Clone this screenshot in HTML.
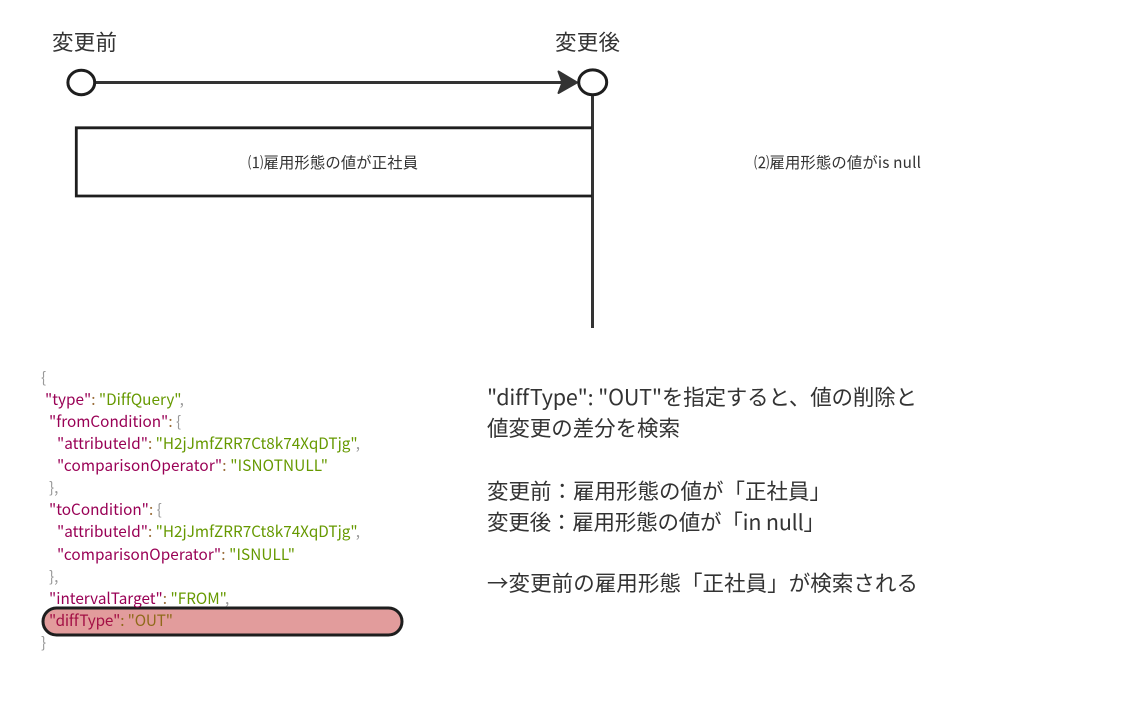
<!DOCTYPE html>
<html><head><meta charset="utf-8"><style>
html,body{margin:0;padding:0;background:#fff;width:1124px;height:708px;overflow:hidden}
svg{display:block}
text{font-family:"Noto Sans CJK JP","Liberation Sans",sans-serif;font-variant-ligatures:none}
.j{font-size:15.3px}
.t{font-size:21.5px;fill:#333}
.k{fill:#990055}.s{fill:#669900}.p{fill:#999}.o{fill:#9a6e3a}
</style></head><body>
<svg width="1124" height="708" viewBox="0 0 1124 708" xmlns="http://www.w3.org/2000/svg">
<text x="52" y="50" font-size="21.500" fill="#333" textLength="65">変更前</text>
<text x="555" y="50" font-size="21.500" fill="#333" textLength="65">変更後</text>
<line x1="96" y1="82.500" x2="566" y2="82.500" stroke="#333" stroke-width="3"/>
<path d="M558.500 71.500 L577 82.500 L558.500 93 L562.500 82.500Z" fill="#333" stroke="#333" stroke-width="2" stroke-linejoin="round"/>
<ellipse cx="81.300" cy="82.500" rx="13.400" ry="12.200" fill="#fff" stroke="#1e1e1e" stroke-width="3"/>
<ellipse cx="592.700" cy="82.300" rx="14" ry="12.400" fill="#fff" stroke="#1e1e1e" stroke-width="3"/>
<line x1="592.500" y1="96" x2="592.500" y2="328" stroke="#333" stroke-width="3"/>
<path d="M592 127.800H76.300V196H592" fill="none" stroke="#1e1e1e" stroke-width="2.800"/>
<text x="248" y="168" font-size="15.300" fill="#333" textLength="170">⑴雇用形態の値が正社員</text>
<text x="754" y="168" font-size="15.300" fill="#333" textLength="167">⑵雇用形態の値がis null</text>
<rect x="43" y="608" width="359" height="27" rx="13.500" fill="#e29c9c" stroke="#1e1e1e" stroke-width="3"/>
<text class="j p" x="41" y="383">{</text>
<text class="j" x="45" y="405"><tspan class="k">"type"</tspan><tspan class="o">:</tspan> <tspan class="s">"DiffQuery"</tspan><tspan class="p">,</tspan></text>
<text class="j" x="49" y="427"><tspan class="k">"fromCondition"</tspan><tspan class="o">:</tspan> <tspan class="p">{</tspan></text>
<text class="j" x="57" y="449"><tspan class="k">"attributeId"</tspan><tspan class="o">:</tspan> <tspan class="s">"H2jJmfZRR7Ct8k74XqDTjg"</tspan><tspan class="p">,</tspan></text>
<text class="j" x="57" y="471" textLength="271"><tspan class="k">"comparisonOperator"</tspan><tspan class="o">:</tspan> <tspan class="s">"ISNOTNULL"</tspan></text>
<text class="j p" x="49" y="493">},</text>
<text class="j" x="49" y="515"><tspan class="k">"toCondition"</tspan><tspan class="o">:</tspan> <tspan class="p">{</tspan></text>
<text class="j" x="57" y="537"><tspan class="k">"attributeId"</tspan><tspan class="o">:</tspan> <tspan class="s">"H2jJmfZRR7Ct8k74XqDTjg"</tspan><tspan class="p">,</tspan></text>
<text class="j" x="57" y="560" textLength="238"><tspan class="k">"comparisonOperator"</tspan><tspan class="o">:</tspan> <tspan class="s">"ISNULL"</tspan></text>
<text class="j p" x="49" y="582">},</text>
<text class="j" x="49" y="604"><tspan class="k">"intervalTarget"</tspan><tspan class="o">:</tspan> <tspan class="s">"FROM"</tspan><tspan class="p">,</tspan></text>
<text class="j" x="49" y="626" textLength="124"><tspan fill="#a30f45">"diffType"</tspan><tspan fill="#8f6a1a">: "OUT"</tspan></text>
<text class="j p" x="41" y="648">}</text>
<text class="t" x="487" y="405" textLength="430">"diffType": "OUT"を指定すると、値の削除と</text>
<text class="t" x="487" y="436" textLength="193">値変更の差分を検索</text>
<text class="t" x="487" y="499" textLength="344">変更前：雇用形態の値が「正社員」</text>
<text class="t" x="487" y="530" textLength="338">変更後：雇用形態の値が「in null」</text>
<text class="t" x="487" y="591" textLength="431">→変更前の雇用形態「正社員」が検索される</text>
</svg>
</body></html>
